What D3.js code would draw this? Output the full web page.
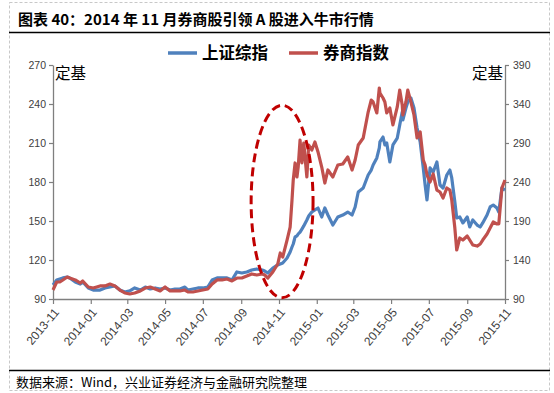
<!DOCTYPE html>
<html>
<head>
<meta charset="utf-8">
<script src="https://cdn.jsdelivr.net/npm/d3@7"></script>
<style>
  body { margin: 0; background: #fff; }
  svg { display: block; }
</style>
</head>
<body>
<svg id="chart" width="554" height="393"></svg>
<script>
// trading dates, with the two rebased indices
var dates = [
  "2013-11-01","2013-11-07","2013-11-12","2013-11-17","2013-11-24","2013-11-28","2013-12-07","2013-12-15","2013-12-19","2013-12-28",
  "2014-01-05","2014-01-16","2014-01-24","2014-02-01","2014-02-09","2014-02-17","2014-02-25","2014-03-05","2014-03-13","2014-03-22",
  "2014-03-30","2014-04-07","2014-04-15","2014-04-23","2014-05-01","2014-05-09","2014-05-17","2014-05-25","2014-06-02","2014-06-07",
  "2014-06-15","2014-06-23","2014-07-01","2014-07-09","2014-07-16","2014-07-24","2014-08-01","2014-08-09","2014-08-17","2014-08-25",
  "2014-09-02","2014-09-10","2014-09-18","2014-09-26","2014-10-05","2014-10-09","2014-10-14","2014-10-22","2014-10-30","2014-11-03",
  "2014-11-07","2014-11-14","2014-11-19","2014-11-22","2014-11-24","2014-11-27","2014-11-30","2014-12-02","2014-12-05","2014-12-08",
  "2014-12-11","2014-12-16","2014-12-19","2014-12-24","2014-12-29","2015-01-03","2015-01-09","2015-01-14","2015-01-19","2015-01-27",
  "2015-02-04","2015-02-12","2015-02-20","2015-02-27","2015-03-04","2015-03-09","2015-03-17","2015-03-25","2015-03-30","2015-04-02",
  "2015-04-08","2015-04-12","2015-04-13","2015-04-18","2015-04-21","2015-04-24","2015-04-29","2015-05-04","2015-05-11","2015-05-15",
  "2015-05-19","2015-05-20","2015-05-25","2015-05-28","2015-06-02","2015-06-07","2015-06-12","2015-06-17","2015-06-22","2015-06-25",
  "2015-06-28","2015-07-03","2015-07-08","2015-07-14","2015-07-19","2015-07-24","2015-07-30","2015-08-04","2015-08-07","2015-08-12",
  "2015-08-15","2015-08-20","2015-08-25","2015-09-01","2015-09-05","2015-09-10","2015-09-17","2015-09-22","2015-09-26","2015-10-03",
  "2015-10-08","2015-10-13","2015-10-19","2015-10-22","2015-10-27","2015-11-01"
];

// 上证综指, left axis
var shIndex = [
  100.8,104.6,105.4,106.2,106.9,106.2,103.1,101.5,103.1,98.5,
  96.9,96.9,98.5,99.2,100.0,96.9,95.4,96.2,98.5,96.9,
  99.2,97.7,98.5,97.7,98.5,96.9,97.7,97.7,99.2,96.9,
  97.7,98.5,98.5,99.2,104.6,106.2,106.2,106.2,104.6,110.8,
  110.0,110.8,112.3,113.1,112.3,111.5,110.0,113.8,116.2,116.9,
  117.7,121.5,126.2,130.0,132.3,137.7,138.5,140.0,141.5,143.8,
  146.2,150.8,153.8,156.9,158.5,160.0,153.1,160.0,154.6,146.9,
  153.1,154.6,156.9,154.6,160.8,172.3,175.4,185.4,189.2,193.1,
  198.5,206.2,210.8,214.6,208.5,210.0,195.4,208.5,213.8,223.8,
  233.8,227.7,236.9,241.5,244.6,236.9,221.5,210.8,190.8,177.7,
  166.2,190.8,187.7,195.4,177.7,175.4,185.4,189.2,183.1,164.6,
  152.3,153.1,148.5,153.1,145.4,150.8,146.9,145.4,148.5,154.6,
  160.8,162.3,160.0,156.9,175.4,173.8
];

// 券商指数, right axis
var brokerIndex = [
  101.5,111.8,111.8,114.4,118.2,116.9,114.4,110.5,113.1,105.4,
  104.1,106.7,106.7,109.2,106.7,101.5,97.7,96.4,97.7,100.3,
  104.1,105.4,102.8,100.3,105.4,100.3,100.3,100.3,101.5,99.0,
  99.0,100.3,101.5,102.8,109.2,114.4,114.4,115.6,113.1,116.9,
  116.9,119.5,122.1,120.8,122.1,120.8,116.9,124.6,134.9,149.0,
  143.8,165.6,182.3,216.9,242.6,264.4,246.4,259.2,293.8,264.4,
  290.0,246.4,287.4,281.0,291.3,278.5,259.2,238.7,255.4,246.4,
  261.8,263.1,272.1,255.4,268.2,287.4,296.4,329.7,345.1,342.6,
  328.5,360.5,354.1,347.7,342.6,328.5,334.9,313.1,336.2,357.9,
  338.7,325.9,342.6,357.9,342.6,325.9,296.4,304.1,268.2,261.8,
  249.0,240.0,250.3,229.7,227.2,219.5,232.3,229.7,216.9,181.0,
  152.8,168.2,165.6,170.8,165.6,159.2,157.9,160.5,165.6,173.3,
  181.0,188.7,186.2,186.2,232.3,242.6
];

var leftTicks = [90, 120, 150, 180, 210, 240, 270];
var rightTicks = [90, 140, 190, 240, 290, 340, 390];
var monthTicks = ["2013-11","2014-01","2014-03","2014-05","2014-07","2014-09","2014-11",
                  "2015-01","2015-03","2015-05","2015-07","2015-09","2015-11"];
var seriesNames = ["上证综指", "券商指数"];

var colors = {sh: "#4F81BD", br: "#C0504D", axis: "#7f7f7f", label: "#404040"};
var cjk = "'Noto Sans CJK SC', 'Noto Sans', sans-serif";
var plot = {left: 53, right: 505, top: 65, bottom: 299};

var parseDay = d3.timeParse("%Y-%m-%d");
var parseMonth = d3.timeParse("%Y-%m");

var svg = d3.select("#chart");

// dashed frame, title and rules
svg.append("rect")
  .attr("x", 9.5).attr("y", 2.5).attr("width", 540).attr("height", 388)
  .attr("fill", "none").attr("stroke", "#c8c8c8").attr("stroke-dasharray", "3,2");

svg.append("text")
  .attr("x", 18).attr("y", 25)
  .attr("font-family", cjk).attr("font-weight", "bold").attr("font-size", 15)
  .attr("fill", "#000")
  .text("图表 40：2014 年 11 月券商股引领 A 股进入牛市行情");

svg.append("line").attr("x1", 9).attr("x2", 550).attr("y1", 32.5).attr("y2", 32.5)
  .attr("stroke", "#000").attr("stroke-width", 1.3);
svg.append("line").attr("x1", 9).attr("x2", 550).attr("y1", 370.5).attr("y2", 370.5)
  .attr("stroke", "#000").attr("stroke-width", 1.3);

svg.append("text")
  .attr("x", 16).attr("y", 387)
  .attr("font-family", cjk).attr("font-size", 13).attr("fill", "#000")
  .text("数据来源：Wind，兴业证券经济与金融研究院整理");

// scales
var x = d3.scaleTime()
  .domain([parseMonth(monthTicks[0]), parseMonth(monthTicks[monthTicks.length - 1])])
  .range([plot.left, plot.right]);
var yL = d3.scaleLinear().domain([90, 270]).range([plot.bottom, plot.top]);
var yR = d3.scaleLinear().domain([90, 390]).range([plot.bottom, plot.top]);

// axes
function styleAxis(g) {
  g.select(".domain").attr("stroke", colors.axis).attr("stroke-width", 1.3);
  g.selectAll(".tick line").attr("stroke", colors.axis).attr("stroke-width", 1.2);
  g.selectAll("text").attr("fill", colors.label)
    .attr("font-family", "'Liberation Sans', Arial, sans-serif").attr("font-size", 10.5);
}

svg.append("g")
  .attr("transform", "translate(" + plot.left + ",0)")
  .call(d3.axisLeft(yL).tickValues(leftTicks).tickSize(4).tickSizeOuter(0).tickPadding(3))
  .call(styleAxis);

svg.append("g")
  .attr("transform", "translate(" + plot.right + ",0)")
  .call(d3.axisRight(yR).tickValues(rightTicks).tickSize(4).tickSizeOuter(0).tickPadding(4))
  .call(styleAxis);

var xAxis = svg.append("g")
  .attr("transform", "translate(0," + plot.bottom + ")")
  .call(d3.axisBottom(x).tickValues(monthTicks.map(parseMonth))
    .tickFormat(d3.timeFormat("%Y-%m")).tickSize(5).tickSizeOuter(0))
  .call(styleAxis);
xAxis.selectAll("text")
  .attr("font-size", 12)
  .attr("text-anchor", "end")
  .attr("y", 0)
  .attr("dy", "0.35em")
  .attr("transform", "translate(3,11) rotate(-50)");

// series
var rows = dates.map(function (d, i) {
  return {date: parseDay(d), sh: shIndex[i], br: brokerIndex[i]};
});

svg.append("path")
  .datum(rows)
  .attr("fill", "none").attr("stroke", colors.sh).attr("stroke-width", 3.2)
  .attr("stroke-linejoin", "round")
  .attr("d", d3.line().x(d => x(d.date)).y(d => yL(d.sh)));

svg.append("path")
  .datum(rows)
  .attr("fill", "none").attr("stroke", colors.br).attr("stroke-width", 3.2)
  .attr("stroke-linejoin", "round")
  .attr("d", d3.line().x(d => x(d.date)).y(d => yR(d.br)));

// 定基 labels
svg.append("text").attr("x", plot.left + 2).attr("y", plot.top + 14)
  .attr("font-family", cjk).attr("font-size", 15.5).attr("fill", "#000").text("定基");
svg.append("text").attr("x", plot.right - 2).attr("y", plot.top + 14)
  .attr("text-anchor", "end")
  .attr("font-family", cjk).attr("font-size", 15.5).attr("fill", "#000").text("定基");

// dashed ellipse round the November 2014 breakout
var ring = {date: parseDay("2014-11-06"), value: 165, days: 50, span: 74};
var cx = x(ring.date);
svg.append("ellipse")
  .attr("cx", cx)
  .attr("cy", yL(ring.value))
  .attr("rx", x(d3.timeDay.offset(ring.date, ring.days)) - cx)
  .attr("ry", yL(ring.value - ring.span) - yL(ring.value))
  .attr("fill", "none").attr("stroke", "#C00000").attr("stroke-width", 3)
  .attr("stroke-dasharray", "9,5");

// legend
var legend = svg.append("g").attr("transform", "translate(168,53)");
[{name: seriesNames[0], color: colors.sh, dx: 0}, {name: seriesNames[1], color: colors.br, dx: 121}]
  .forEach(function (s) {
    var g = legend.append("g").attr("transform", "translate(" + s.dx + ",0)");
    g.append("line").attr("x1", 0).attr("x2", 29).attr("y1", 0).attr("y2", 0)
      .attr("stroke", s.color).attr("stroke-width", 3.5);
    g.append("text").attr("x", 34).attr("y", 6)
      .attr("font-family", cjk).attr("font-weight", "bold").attr("font-size", 16.5)
      .attr("fill", "#000").text(s.name);
  });
</script>
</body>
</html>
